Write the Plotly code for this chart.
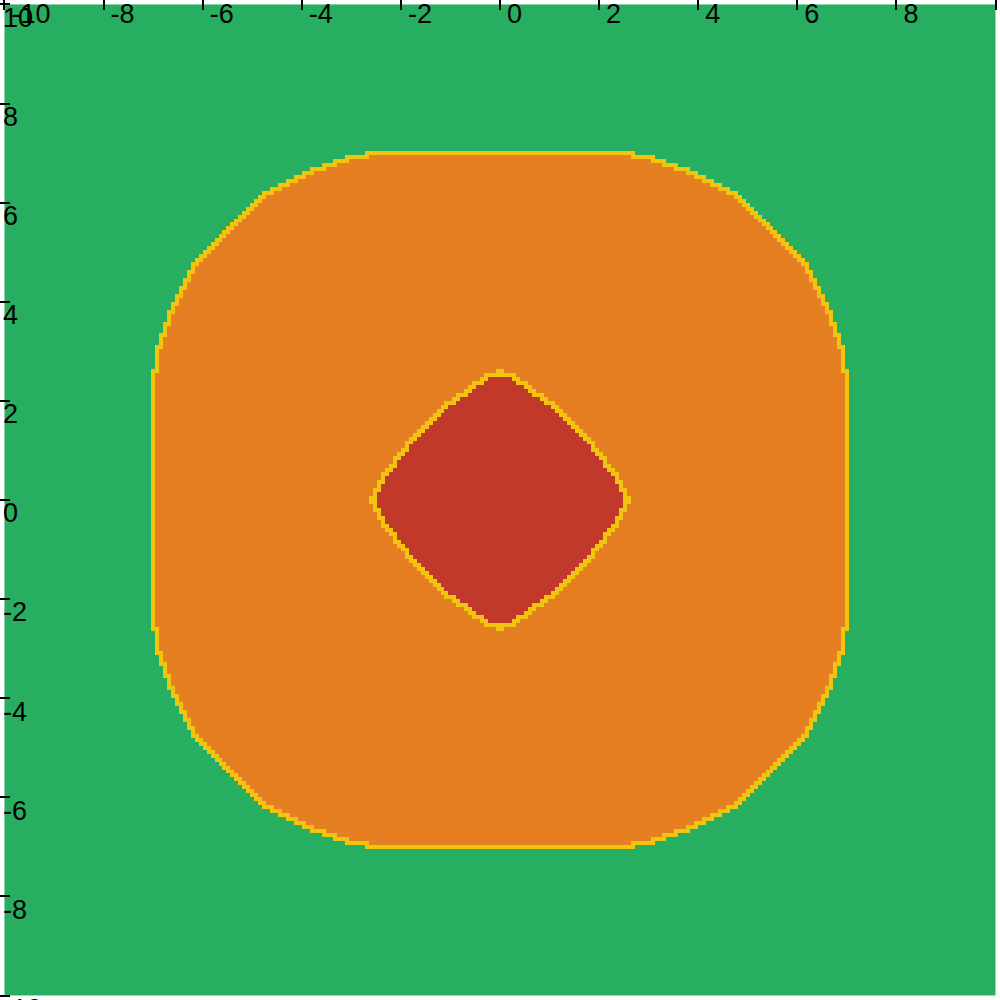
import numpy as np
import plotly.graph_objects as go

# Grid (250 x 250 cells spanning -10..10)
n_cells = 250
edges = np.linspace(-10, 10, n_cells + 1)
centers = (edges[:-1] + edges[1:]) / 2

# Outer rounded-square boundary, first quadrant: (|y|, half-width in x)
outer_y = [0.00, 2.66, 3.04, 3.37, 3.57, 3.81, 4.00, 4.18, 4.32, 4.48, 4.66, 5.07, 5.50,
           5.93, 6.29, 6.45, 6.53, 6.61, 6.69, 6.77, 6.85, 6.94, 7.02]
outer_w = [7.00, 7.00, 6.94, 6.85, 6.77, 6.69, 6.61, 6.53, 6.45, 6.37, 6.29, 5.93, 5.50,
           5.07, 4.66, 4.32, 4.18, 4.00, 3.81, 3.57, 3.37, 3.04, 2.66]

# Inner diamond boundary, first quadrant: (|y|, half-width in x)
inner_y = [0.00, 0.20, 0.46, 0.67, 0.87, 1.07, 1.27, 1.45, 1.61, 1.81, 2.02, 2.26, 2.42, 2.56, 2.64]
inner_w = [2.64, 2.56, 2.42, 2.26, 2.12, 1.96, 1.82, 1.65, 1.47, 1.31, 1.01, 0.67, 0.46, 0.22, 0.00]

tick_vals = [-10, -8, -6, -4, -2, 0, 2, 4, 6, 8, 10]
tick_text = ["-10", "-8", "-6", "-4", "-2", "0", "2", "4", "6", "8", "10"]

colors = {"green": "#27ae60", "yellow": "#f1c40f", "orange": "#e67e22", "red": "#c0392b"}

X, Y = np.meshgrid(centers, centers)
ax, ay = np.abs(X), np.abs(Y)
in_outer = ax <= np.interp(ay, outer_y, outer_w, right=-1.0)
in_inner = ax <= np.interp(ay, inner_y, inner_w, right=-1.0)

cls = np.zeros(X.shape, dtype=int)
cls[in_outer] = 2
cls[in_inner] = 3


def edge_cells(mask):
    p = np.pad(mask, 1, constant_values=False)
    e = np.zeros_like(mask)
    h, w = mask.shape
    for dy in (-1, 0, 1):
        for dx in (-1, 0, 1):
            if dx == 0 and dy == 0:
                continue
            nb = p[1 + dy:1 + dy + h, 1 + dx:1 + dx + w]
            e |= mask & ~nb
    return e


z = cls.copy()
z[edge_cells(in_outer)] = 1
z[edge_cells(in_inner)] = 1

cs = [[0.0, colors["green"]], [0.25, colors["green"]],
      [0.25, colors["yellow"]], [0.5, colors["yellow"]],
      [0.5, colors["orange"]], [0.75, colors["orange"]],
      [0.75, colors["red"]], [1.0, colors["red"]]]

fig = go.Figure(go.Heatmap(
    z=z, x=edges, y=edges, colorscale=cs, zmin=-0.5, zmax=3.5,
    showscale=False, hoverinfo="skip"))
# empty trace that carries the tick-mark-only overlay axes
fig.add_trace(go.Scatter(x=[], y=[], xaxis="x2", yaxis="y2", showlegend=False, hoverinfo="skip"))

rng = [-10.09, 10.09]
font = dict(family="Liberation Sans, Arial, sans-serif", size=27, color="black")
common = dict(range=rng, tickvals=tick_vals, showgrid=False, zeroline=False, showline=False,
              automargin=False, domain=[0, 1])
fig.update_layout(
    width=1000, height=1000,
    margin=dict(l=0, r=0, t=0, b=0, autoexpand=False),
    paper_bgcolor="white", plot_bgcolor="white",
    xaxis=dict(side="top", ticktext=tick_text, ticks="", ticklabelposition="inside right",
               ticklabelshift=7, ticklabelstandoff=-2, ticklabeloverflow="allow",
               tickfont=font, **common),
    yaxis=dict(ticktext=tick_text, ticks="", ticklabelposition="inside bottom",
               ticklabelshift=-6, ticklabeloverflow="allow", tickfont=font, **common),
    xaxis2=dict(overlaying="x", anchor="y2", side="top", ticks="inside", ticklen=10,
                tickcolor="black", tickwidth=1.5, showticklabels=False, **common),
    yaxis2=dict(overlaying="y", anchor="x2", side="left", ticks="inside", ticklen=10,
                tickcolor="black", tickwidth=1.5, showticklabels=False, **common),
)

fig.write_html("out.html")
